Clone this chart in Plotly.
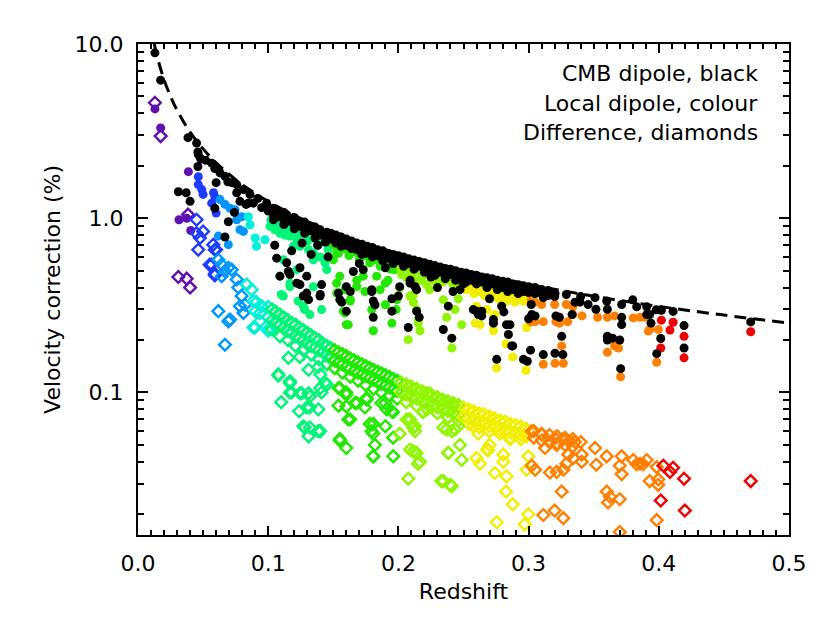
import plotly.graph_objects as go

# dashed reference curve
z_line = [0.0125, 0.015, 0.02, 0.025, 0.03, 0.04, 0.05, 0.06, 0.07, 0.08, 0.1,
          0.12, 0.15, 0.2, 0.25, 0.3, 0.35, 0.4, 0.45, 0.5]
v_line = [10.0, 8.3, 6.25, 5.0, 4.17, 3.12, 2.5, 2.08, 1.79, 1.56, 1.25,
          1.04, 0.83, 0.625, 0.5, 0.417, 0.357, 0.312, 0.278, 0.25]

# CMB dipole correction (black dots): (redshift, %)
cmb = [
    (0.013, 8.9), (0.0174, 6.2), (0.031, 1.42), (0.037, 1.40), (0.040, 1.25), (0.0384, 2.9),
    (0.045, 2.7), (0.046, 2.4), (0.048, 2.2), (0.0463, 2.32), (0.046, 1.98), (0.0566, 2.07),
    (0.059, 1.93), (0.063, 1.82), (0.0668, 1.74), (0.072, 1.6), (0.0758, 1.56), (0.081, 1.46),
    (0.086, 1.37), (0.0886, 1.22), (0.0758, 1.40), (0.0783, 1.25), (0.0847, 1.22), (0.060, 1.6),
    (0.059, 1.14), (0.0694, 0.955), (0.0668, 0.78), (0.052, 2.15), (0.062, 1.9), (0.069, 1.62),
    (0.074, 1.08), (0.083, 1.2), (0.092, 1.3), (0.095, 1.15),
    (0.0988, 1.22), (0.104, 1.14), (0.109, 1.09), (0.1142, 1.047), (0.1193, 0.995), (0.1244, 0.955),
    (0.1296, 0.918), (0.1347, 0.89), (0.1398, 0.86), (0.145, 0.83), (0.150, 0.80), (0.155, 0.78),
    (0.100, 1.10), (0.104, 1.05), (0.104, 0.98), (0.108, 1.02), (0.112, 1.08), (0.112, 0.99),
    (0.112, 0.92), (0.116, 0.96), (0.120, 1.01), (0.120, 0.93), (0.120, 0.87), (0.124, 0.90),
    (0.128, 0.95), (0.128, 0.87), (0.128, 0.82), (0.132, 0.85), (0.136, 0.89), (0.136, 0.82),
    (0.136, 0.77), (0.140, 0.80), (0.144, 0.78), (0.144, 0.73), (0.148, 0.82), (0.148, 0.76),
    (0.1065, 0.59), (0.1142, 0.555), (0.109, 0.465), (0.1167, 0.475), (0.1244, 0.52), (0.1296, 0.465),
    (0.1296, 0.372), (0.127, 0.358), (0.1398, 0.358), (0.122, 0.424), (0.141, 0.416), (0.1155, 0.495),
    (0.1244, 0.416), (0.131, 0.341), (0.140, 0.365), (0.105, 0.70), (0.118, 0.65), (0.133, 0.62),
    (0.146, 0.60), (0.138, 0.70), (0.126, 0.72),
    (0.152, 0.80), (0.152, 0.72), (0.156, 0.78), (0.156, 0.74), (0.156, 0.69), (0.160, 0.76),
    (0.160, 0.70), (0.164, 0.74), (0.164, 0.67), (0.164, 0.71), (0.168, 0.72), (0.168, 0.66),
    (0.172, 0.71), (0.172, 0.68), (0.172, 0.62), (0.176, 0.69), (0.176, 0.63), (0.180, 0.68),
    (0.180, 0.64), (0.180, 0.60), (0.184, 0.66), (0.184, 0.61), (0.188, 0.65), (0.188, 0.62),
    (0.188, 0.57), (0.192, 0.63), (0.192, 0.59), (0.196, 0.62), (0.196, 0.58), (0.196, 0.55),
    (0.200, 0.61), (0.200, 0.57), (0.204, 0.60), (0.204, 0.56), (0.204, 0.53), (0.208, 0.585),
    (0.208, 0.55), (0.212, 0.575), (0.212, 0.54), (0.212, 0.51), (0.216, 0.565), (0.216, 0.53),
    (0.220, 0.555), (0.220, 0.52), (0.220, 0.49), (0.224, 0.545), (0.224, 0.51), (0.228, 0.535),
    (0.228, 0.50), (0.228, 0.47), (0.232, 0.525), (0.232, 0.49), (0.236, 0.515), (0.236, 0.485),
    (0.236, 0.45), (0.240, 0.51), (0.240, 0.475), (0.244, 0.50), (0.244, 0.47), (0.244, 0.44),
    (0.248, 0.49), (0.248, 0.46), (0.252, 0.485), (0.252, 0.455), (0.252, 0.43), (0.256, 0.475),
    (0.256, 0.44), (0.260, 0.47), (0.260, 0.44), (0.260, 0.42), (0.264, 0.46), (0.264, 0.43),
    (0.268, 0.455), (0.268, 0.425), (0.268, 0.40), (0.272, 0.45), (0.272, 0.42), (0.276, 0.44),
    (0.276, 0.41), (0.276, 0.39), (0.280, 0.435), (0.280, 0.40), (0.284, 0.43), (0.284, 0.40),
    (0.284, 0.38), (0.288, 0.42), (0.288, 0.39), (0.292, 0.415), (0.292, 0.385), (0.292, 0.37),
    (0.296, 0.41), (0.296, 0.38), (0.300, 0.405), (0.300, 0.375), (0.305, 0.40), (0.305, 0.37),
    (0.310, 0.39), (0.315, 0.385), (0.315, 0.36),
    (0.154, 0.372), (0.1565, 0.33), (0.1795, 0.38), (0.1807, 0.335), (0.1807, 0.27), (0.195, 0.293),
    (0.2076, 0.236), (0.214, 0.293), (0.209, 0.424), (0.155, 0.341), (0.160, 0.293), (0.160, 0.405),
    (0.163, 0.38), (0.1654, 0.495), (0.173, 0.507), (0.1795, 0.389), (0.182, 0.319), (0.195, 0.345),
    (0.200, 0.358), (0.201, 0.405), (0.209, 0.44), (0.2128, 0.405), (0.214, 0.389), (0.216, 0.27),
    (0.2345, 0.23), (0.241, 0.205), (0.2383, 0.313), (0.242, 0.38), (0.2473, 0.389), (0.2575, 0.299),
    (0.260, 0.293), (0.264, 0.293), (0.270, 0.345), (0.273, 0.262), (0.2793, 0.313), (0.283, 0.245),
    (0.287, 0.185), (0.2755, 0.155), (0.296, 0.155), (0.2857, 0.245), (0.2845, 0.215), (0.2878, 0.185),
    (0.273, 0.25), (0.281, 0.29), (0.2614, 0.28), (0.264, 0.275), (0.170, 0.55), (0.190, 0.52),
    (0.225, 0.46), (0.230, 0.40), (0.250, 0.42),
    (0.3024, 0.28), (0.305, 0.275), (0.300, 0.265), (0.302, 0.32), (0.3015, 0.175), (0.299, 0.151),
    (0.3113, 0.35), (0.3203, 0.37), (0.329, 0.365), (0.3113, 0.165), (0.3203, 0.168), (0.3263, 0.165),
    (0.3254, 0.21), (0.3334, 0.28), (0.3237, 0.27), (0.321, 0.275), (0.3356, 0.33), (0.3394, 0.33),
    (0.3457, 0.32), (0.351, 0.35), (0.3517, 0.30), (0.3605, 0.30), (0.3605, 0.21), (0.3645, 0.205),
    (0.370, 0.20), (0.3605, 0.20), (0.3707, 0.137), (0.3715, 0.32), (0.3715, 0.27), (0.3715, 0.245),
    (0.380, 0.34), (0.3907, 0.31), (0.383, 0.31), (0.3907, 0.28), (0.394, 0.25), (0.402, 0.296),
    (0.398, 0.298), (0.393, 0.28), (0.4015, 0.204), (0.3984, 0.167), (0.411, 0.292), (0.4194, 0.242),
    (0.4194, 0.18), (0.4706, 0.254), (0.320, 0.355), (0.340, 0.355), (0.360, 0.335), (0.310, 0.37),
]

# local dipole correction (coloured dots)
local = [
    (0.013, 4.24), (0.0174, 3.3), (0.0387, 1.85), (0.0315, 0.98), (0.0374, 1.0), (0.0405, 0.85),
    (0.0463, 1.73), (0.0463, 1.56), (0.049, 1.46), (0.050, 1.37), (0.058, 1.40), (0.0566, 1.22),
    (0.060, 1.07), (0.059, 1.33), (0.063, 1.28), (0.0668, 1.2), (0.0707, 1.14), (0.0745, 1.12),
    (0.0758, 0.98), (0.0783, 0.86), (0.081, 0.84), (0.0617, 0.79), (0.0694, 0.705), (0.0796, 1.02),
    (0.0847, 1.02), (0.086, 0.918), (0.090, 0.77), (0.091, 0.69), (0.0975, 0.753),
    (0.1014, 0.90), (0.105, 0.86), (0.109, 0.82), (0.1129, 0.80), (0.1167, 0.79), (0.122, 0.753),
    (0.1244, 0.69), (0.131, 0.66), (0.1347, 0.63), (0.1398, 0.60), (0.1436, 0.555), (0.1347, 0.578),
    (0.1193, 0.69), (0.1116, 0.578), (0.109, 0.465), (0.1167, 0.424), (0.1116, 0.358), (0.127, 0.313),
    (0.1347, 0.405), (0.145, 0.507), (0.150, 0.578), (0.1526, 0.424), (0.122, 0.507), (0.1167, 0.405),
    (0.123, 0.335), (0.128, 0.299), (0.132, 0.28), (0.110, 0.365), (0.141, 0.299), (0.1526, 0.372),
    (0.155, 0.465), (0.159, 0.389), (0.163, 0.341), (0.1615, 0.245), (0.1577, 0.293), (0.168, 0.44),
    (0.173, 0.465), (0.1743, 0.38), (0.1807, 0.226), (0.1795, 0.299), (0.186, 0.389), (0.190, 0.319),
    (0.195, 0.25), (0.1983, 0.299), (0.192, 0.44), (0.197, 0.507), (0.1833, 0.465), (0.1526, 0.63),
    (0.163, 0.335), (0.160, 0.245), (0.159, 0.286), (0.168, 0.405), (0.190, 0.424), (0.1987, 0.341),
    (0.2025, 0.475), (0.2064, 0.455), (0.2115, 0.445), (0.2166, 0.44), (0.2217, 0.416), (0.224, 0.389),
    (0.2294, 0.424), (0.209, 0.358), (0.2115, 0.33), (0.214, 0.299), (0.2153, 0.262), (0.2166, 0.226),
    (0.2076, 0.201), (0.2345, 0.341), (0.237, 0.27), (0.241, 0.18), (0.2486, 0.245), (0.246, 0.345),
    (0.2435, 0.299), (0.201, 0.398), (0.2115, 0.365), (0.2153, 0.25),
    (0.102, 0.98), (0.106, 0.95), (0.106, 0.88), (0.110, 0.92), (0.114, 0.90), (0.114, 0.84),
    (0.118, 0.86), (0.122, 0.84), (0.122, 0.78), (0.126, 0.82), (0.130, 0.80), (0.130, 0.74),
    (0.134, 0.77), (0.138, 0.75), (0.138, 0.70), (0.142, 0.73), (0.146, 0.71), (0.146, 0.66),
    (0.150, 0.70), (0.154, 0.68), (0.154, 0.63), (0.158, 0.67), (0.162, 0.65), (0.162, 0.61),
    (0.166, 0.64), (0.170, 0.62), (0.170, 0.58), (0.174, 0.61), (0.178, 0.59), (0.178, 0.555),
    (0.182, 0.58), (0.186, 0.57), (0.186, 0.53), (0.190, 0.56), (0.194, 0.55), (0.194, 0.51),
    (0.198, 0.54), (0.202, 0.53), (0.202, 0.50), (0.206, 0.52), (0.210, 0.51), (0.210, 0.48),
    (0.214, 0.50), (0.218, 0.49), (0.218, 0.46), (0.222, 0.48), (0.226, 0.47), (0.226, 0.445),
    (0.230, 0.46), (0.234, 0.455), (0.234, 0.43), (0.238, 0.445), (0.242, 0.44), (0.242, 0.415),
    (0.246, 0.43), (0.252, 0.39), (0.258, 0.385), (0.258, 0.37), (0.262, 0.38), (0.266, 0.375),
    (0.266, 0.36), (0.272, 0.37), (0.276, 0.365), (0.276, 0.35), (0.282, 0.36), (0.286, 0.355),
    (0.286, 0.345), (0.292, 0.35), (0.296, 0.345), (0.296, 0.335),
    (0.2563, 0.416), (0.260, 0.398), (0.2652, 0.389), (0.270, 0.38), (0.2755, 0.372), (0.2793, 0.365),
    (0.2857, 0.358), (0.291, 0.341), (0.296, 0.335), (0.297, 0.358), (0.260, 0.313), (0.268, 0.299),
    (0.274, 0.28), (0.259, 0.25), (0.2627, 0.245), (0.273, 0.226), (0.2826, 0.19), (0.2878, 0.16),
    (0.2755, 0.138), (0.298, 0.134), (0.2985, 0.236), (0.2895, 0.33), (0.278, 0.341), (0.283, 0.335),
    (0.268, 0.372), (0.291, 0.365),
    (0.320, 0.32), (0.329, 0.32), (0.334, 0.31), (0.341, 0.275), (0.334, 0.28), (0.330, 0.255),
    (0.3237, 0.25), (0.321, 0.255), (0.3113, 0.255), (0.3267, 0.147), (0.3203, 0.147), (0.3113, 0.145),
    (0.3254, 0.185), (0.3015, 0.255), (0.305, 0.255), (0.302, 0.34), (0.305, 0.33), (0.310, 0.32),
    (0.353, 0.27), (0.3605, 0.27), (0.3605, 0.17), (0.369, 0.18), (0.366, 0.185), (0.3707, 0.123),
    (0.3856, 0.27), (0.3894, 0.27), (0.393, 0.23), (0.392, 0.225), (0.3997, 0.23), (0.3804, 0.268),
    (0.3984, 0.149), (0.366, 0.275),
    (0.4706, 0.223), (0.4194, 0.21), (0.4194, 0.158), (0.411, 0.253), (0.4086, 0.228), (0.4015, 0.18),
    (0.402, 0.26),
]

# difference (open diamonds)
diff = [
    (0.013, 4.6), (0.0174, 2.96), (0.0384, 1.05), (0.031, 0.46), (0.0374, 0.45), (0.040, 0.40),
    (0.045, 0.98), (0.050, 0.84), (0.045, 0.82), (0.0476, 0.77), (0.0463, 0.66), (0.0566, 0.542),
    (0.059, 0.66), (0.059, 0.48), (0.0578, 0.705), (0.060, 0.66), (0.055, 0.54), (0.0590, 0.47),
    (0.0617, 0.578), (0.0643, 0.542), (0.0668, 0.497), (0.0694, 0.52), (0.072, 0.507), (0.0643, 0.465),
    (0.0758, 0.445), (0.077, 0.40), (0.0796, 0.358), (0.0783, 0.313), (0.081, 0.286), (0.0617, 0.293),
    (0.0694, 0.256), (0.0668, 0.188), (0.0822, 0.319), (0.0707, 0.262),
    (0.0835, 0.416), (0.0873, 0.389), (0.0886, 0.335), (0.091, 0.33), (0.090, 0.293), (0.0937, 0.286),
    (0.095, 0.313), (0.100, 0.226), (0.090, 0.236), (0.0886, 0.236), (0.0937, 0.256), (0.100, 0.23),
    (0.100, 0.31), (0.100, 0.27), (0.103, 0.30), (0.103, 0.26), (0.103, 0.23), (0.106, 0.29),
    (0.106, 0.25), (0.109, 0.28), (0.109, 0.245), (0.109, 0.21), (0.112, 0.27), (0.112, 0.235),
    (0.115, 0.26), (0.115, 0.225), (0.115, 0.20), (0.118, 0.25), (0.118, 0.22), (0.121, 0.245),
    (0.121, 0.21), (0.121, 0.185), (0.124, 0.235), (0.124, 0.205), (0.127, 0.228), (0.127, 0.20),
    (0.127, 0.175), (0.130, 0.22), (0.130, 0.19), (0.133, 0.213), (0.133, 0.185), (0.133, 0.165),
    (0.136, 0.205), (0.136, 0.18), (0.139, 0.20), (0.139, 0.175), (0.139, 0.155), (0.142, 0.19),
    (0.142, 0.17), (0.145, 0.185), (0.145, 0.163), (0.145, 0.145), (0.148, 0.18), (0.148, 0.157),
    (0.151, 0.175), (0.151, 0.152), (0.151, 0.138), (0.154, 0.17), (0.154, 0.148), (0.157, 0.166),
    (0.157, 0.145), (0.157, 0.13), (0.160, 0.162), (0.160, 0.14), (0.163, 0.157), (0.163, 0.137),
    (0.163, 0.123), (0.166, 0.153), (0.166, 0.133), (0.169, 0.149), (0.169, 0.13), (0.169, 0.117),
    (0.172, 0.145), (0.172, 0.127), (0.175, 0.142), (0.175, 0.124), (0.175, 0.11), (0.178, 0.138),
    (0.178, 0.121), (0.181, 0.135), (0.181, 0.118), (0.181, 0.105), (0.184, 0.132), (0.184, 0.115),
    (0.187, 0.129), (0.187, 0.112), (0.187, 0.10), (0.190, 0.126), (0.190, 0.11), (0.193, 0.123),
    (0.193, 0.107), (0.193, 0.096), (0.196, 0.12), (0.196, 0.104), (0.199, 0.117), (0.199, 0.102),
    (0.199, 0.092), (0.202, 0.114), (0.202, 0.10), (0.206, 0.111), (0.206, 0.097), (0.206, 0.088),
    (0.210, 0.108), (0.210, 0.094), (0.214, 0.105), (0.214, 0.092), (0.214, 0.084), (0.218, 0.102),
    (0.218, 0.089), (0.222, 0.099), (0.222, 0.087), (0.222, 0.080), (0.226, 0.096), (0.226, 0.084),
    (0.230, 0.094), (0.230, 0.082), (0.230, 0.076), (0.234, 0.091), (0.234, 0.080), (0.238, 0.089),
    (0.238, 0.078), (0.238, 0.072), (0.242, 0.087), (0.242, 0.076), (0.246, 0.085), (0.246, 0.074),
    (0.246, 0.069), (0.250, 0.082), (0.250, 0.072), (0.254, 0.080), (0.254, 0.071), (0.254, 0.066),
    (0.258, 0.078), (0.258, 0.069), (0.262, 0.076), (0.262, 0.067), (0.262, 0.063), (0.266, 0.075),
    (0.266, 0.066), (0.270, 0.073), (0.270, 0.064), (0.270, 0.060), (0.274, 0.071), (0.274, 0.063),
    (0.278, 0.069), (0.278, 0.061), (0.278, 0.058), (0.282, 0.068), (0.282, 0.060), (0.286, 0.066),
    (0.286, 0.059), (0.286, 0.055), (0.290, 0.065), (0.290, 0.058), (0.294, 0.064), (0.294, 0.057),
    (0.294, 0.054), (0.298, 0.062), (0.298, 0.056),
    (0.304, 0.060), (0.304, 0.055), (0.310, 0.058), (0.310, 0.053), (0.316, 0.057), (0.316, 0.052),
    (0.322, 0.056), (0.322, 0.051), (0.328, 0.055), (0.328, 0.050), (0.334, 0.054), (0.334, 0.049),
    (0.340, 0.052),
    (0.1078, 0.127), (0.1155, 0.158), (0.1244, 0.16), (0.131, 0.135), (0.1385, 0.14), (0.140, 0.127),
    (0.1436, 0.114), (0.141, 0.10), (0.1296, 0.082), (0.132, 0.095), (0.128, 0.063), (0.131, 0.056),
    (0.1385, 0.06), (0.118, 0.10), (0.1167, 0.116), (0.1257, 0.099), (0.1078, 0.125), (0.1167, 0.113),
    (0.110, 0.088), (0.1167, 0.10), (0.1244, 0.099), (0.131, 0.099), (0.1237, 0.078), (0.127, 0.064),
    (0.132, 0.063), (0.140, 0.06), (0.1385, 0.08), (0.132, 0.082), (0.140, 0.106), (0.145, 0.111),
    (0.154, 0.106), (0.160, 0.10), (0.154, 0.084), (0.160, 0.083), (0.1615, 0.07), (0.1743, 0.082),
    (0.168, 0.087), (0.1756, 0.093), (0.155, 0.054), (0.160, 0.048), (0.178, 0.066), (0.1795, 0.06),
    (0.182, 0.05), (0.1807, 0.043), (0.190, 0.087), (0.191, 0.08), (0.196, 0.077), (0.196, 0.055),
    (0.190, 0.064), (0.196, 0.043), (0.155, 0.106), (0.160, 0.097), (0.1667, 0.087), (0.163, 0.07),
    (0.1756, 0.091), (0.1807, 0.066), (0.1807, 0.058), (0.187, 0.087), (0.195, 0.078), (0.201, 0.058),
    (0.155, 0.053), (0.1807, 0.043),
    (0.2064, 0.07), (0.2115, 0.063), (0.214, 0.045), (0.219, 0.078), (0.224, 0.099), (0.2076, 0.032),
    (0.209, 0.07), (0.2128, 0.064), (0.2115, 0.046), (0.2166, 0.04), (0.219, 0.077), (0.233, 0.031),
    (0.2396, 0.0295), (0.2383, 0.045), (0.2473, 0.05), (0.237, 0.0614), (0.2435, 0.0614), (0.232, 0.09),
    (0.242, 0.084), (0.2076, 0.07), (0.2115, 0.063), (0.2128, 0.060), (0.209, 0.047), (0.213, 0.045),
    (0.215, 0.039), (0.2345, 0.063), (0.2383, 0.045), (0.2486, 0.041), (0.2345, 0.031), (0.241, 0.029),
    (0.241, 0.060), (0.246, 0.064),
    (0.2575, 0.064), (0.2614, 0.058), (0.270, 0.050), (0.269, 0.0467), (0.260, 0.042), (0.2627, 0.039),
    (0.274, 0.0345), (0.2806, 0.044), (0.2806, 0.040), (0.283, 0.033), (0.2826, 0.027), (0.2878, 0.0228),
    (0.2755, 0.018), (0.297, 0.0175), (0.2998, 0.020), (0.2998, 0.043), (0.2985, 0.036), (0.2857, 0.054),
    (0.268, 0.047),
    (0.3024, 0.060), (0.310, 0.0574), (0.3126, 0.048), (0.3203, 0.055), (0.3216, 0.050), (0.3267, 0.054),
    (0.3318, 0.0525), (0.3356, 0.052), (0.3305, 0.044), (0.3343, 0.042), (0.3408, 0.044), (0.3408, 0.040),
    (0.3024, 0.038), (0.305, 0.036), (0.3164, 0.0347), (0.3216, 0.035), (0.3267, 0.036), (0.329, 0.039),
    (0.3254, 0.027), (0.3113, 0.0198), (0.320, 0.021), (0.3267, 0.019), (0.351, 0.048), (0.352, 0.0385),
    (0.360, 0.043), (0.360, 0.027), (0.3625, 0.0252), (0.370, 0.0244), (0.361, 0.0234), (0.3715, 0.043),
    (0.370, 0.038), (0.3715, 0.034), (0.3804, 0.041), (0.3856, 0.039), (0.3907, 0.041), (0.388, 0.0387),
    (0.383, 0.0387), (0.3984, 0.0373), (0.3996, 0.0317), (0.393, 0.031), (0.3995, 0.0295), (0.3984, 0.0185),
    (0.370, 0.0158),
    (0.4035, 0.038), (0.411, 0.037), (0.4086, 0.035), (0.4194, 0.032), (0.4015, 0.024), (0.420, 0.021),
    (0.4706, 0.031),
]

# colour bins in redshift (IDL rainbow style)
bin_edges = [0.0, 0.042, 0.061, 0.083, 0.101, 0.15, 0.2, 0.25, 0.3, 0.4, 0.5]
bin_colors = ['#6010b0', '#1e3cff', '#0096ff', '#00f0d8', '#00f578',
              '#22e800', '#90f500', '#f2ee00', '#ff8000', '#f00000']

y_minor = [0.02, 0.03, 0.04, 0.05, 0.06, 0.07, 0.08, 0.09,
           0.2, 0.3, 0.4, 0.5, 0.6, 0.7, 0.8, 0.9,
           2, 3, 4, 5, 6, 7, 8, 9]

zmax = bin_edges[-1]
cscale = []
for i, c in enumerate(bin_colors):
    cscale.append([bin_edges[i] / zmax, c])
    cscale.append([bin_edges[i + 1] / zmax, c])

font = 'DejaVu Sans'

fig = go.Figure()

fig.add_trace(go.Scatter(
    x=[p[0] for p in local], y=[p[1] for p in local], mode='markers',
    marker=dict(size=9, color=[p[0] for p in local], colorscale=cscale,
                cmin=0, cmax=zmax, line=dict(width=0)),
    showlegend=False))

fig.add_trace(go.Scatter(
    x=[p[0] for p in diff], y=[p[1] for p in diff], mode='markers',
    marker=dict(symbol='diamond-open', size=9, line=dict(width=2.4),
                color=[p[0] for p in diff], colorscale=cscale, cmin=0, cmax=zmax),
    showlegend=False))

fig.add_trace(go.Scatter(
    x=[p[0] for p in cmb], y=[p[1] for p in cmb], mode='markers',
    marker=dict(size=9, color='black', line=dict(width=0)),
    showlegend=False))

fig.add_trace(go.Scatter(
    x=z_line, y=v_line, mode='lines',
    line=dict(color='black', width=3, dash='12px,7px', shape='spline'),
    showlegend=False))

for i, txt in enumerate(['CMB dipole, black', 'Local dipole, colour', 'Difference, diamonds']):
    fig.add_annotation(text=txt, xref='paper', yref='paper', x=0.955,
                       y=0.939 - i * 0.0601, xanchor='right', yanchor='middle',
                       showarrow=False, font=dict(family=font, size=22, color='black'))

axis_common = dict(showline=True, linewidth=2, linecolor='black', mirror='allticks',
                   ticks='inside', tickwidth=2, tickcolor='black', showgrid=False,
                   zeroline=False, tickfont=dict(family=font, size=22, color='black'))

fig.update_xaxes(range=[0, 0.5], dtick=0.1, tickformat='.1f', ticklen=9,
                 minor=dict(dtick=0.01, ticks='inside', ticklen=5, tickwidth=2, tickcolor='black'),
                 title=dict(text='Redshift', font=dict(family=font, size=22, color='black'),
                            standoff=8),
                 ticklabelstandoff=8, **axis_common)
fig.update_yaxes(type='log', range=[-1.818, 1.0], tickvals=[0.1, 1, 10],
                 ticktext=['0.1', '1.0', '10.0'], ticklen=10,
                 minor=dict(tickvals=y_minor, ticks='inside', ticklen=6, tickwidth=2,
                            tickcolor='black'),
                 title=dict(text='Velocity correction (%)',
                            font=dict(family=font, size=22, color='black'), standoff=8),
                 ticklabelstandoff=8, **axis_common)

# page body has an 8px margin, so the figure is drawn 8px in from the corner
fig.update_layout(width=822, height=616, margin=dict(l=130, r=41, t=36, b=89),
                  plot_bgcolor='white', paper_bgcolor='white', showlegend=False)

fig.write_html("out.html")
